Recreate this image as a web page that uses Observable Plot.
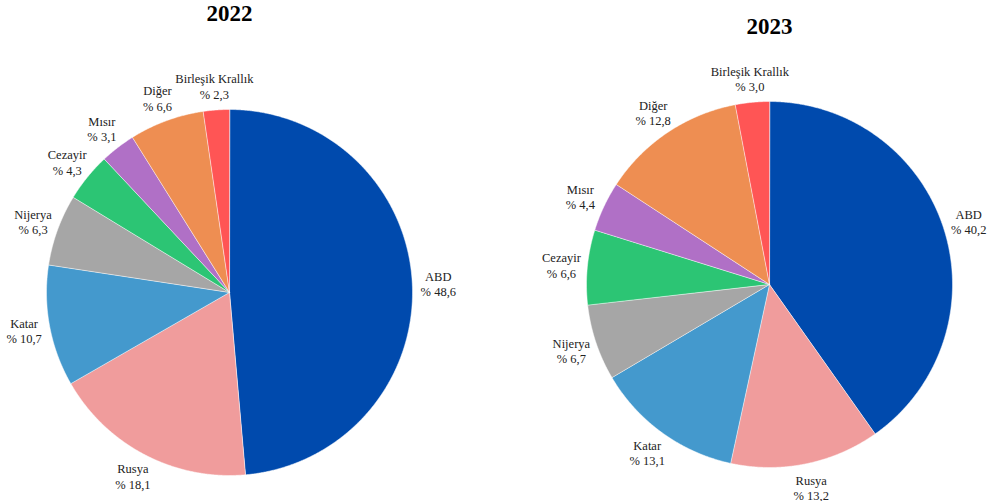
<!DOCTYPE html>
<html><head><meta charset="utf-8">
<script src="https://cdn.jsdelivr.net/npm/d3@7"></script>
<script src="https://cdn.jsdelivr.net/npm/@observablehq/plot@0.6"></script>
<style>body{margin:0;background:#fff}#chart{width:995px;height:501px}</style>
</head><body><div id="chart"></div>
<script>
// ---- data ----
const countries = ["ABD", "Rusya", "Katar", "Nijerya", "Cezayir", "Mısır", "Diğer", "Birleşik Krallık"];
const colors = ["#004AAD", "#F09C9C", "#4499CD", "#A6A6A6", "#2CC574", "#B070C6", "#EE8E52", "#FF5555"];
const years = ["2022", "2023"];
const shares2022 = [48.6, 18.1, 10.7, 6.3, 4.3, 3.1, 6.6, 2.3];
const shares2023 = [40.2, 13.2, 13.1, 6.7, 6.6, 4.4, 12.8, 3.0];

// ---- layout ----
const W = 995, H = 501;
const layout = {
  "2022": {cx: 229, cy: 292, ty: 13, shares: shares2022},
  "2023": {cx: 769, cy: 284, ty: 26, shares: shares2023}
};
const R = 183, LR = 207;
const FONT = "Liberation Serif";
const fmt = v => "% " + v.toFixed(1).replace(".", ",");

const slicePts = [], labels = [], titles = [];
for (const yr of years) {
  const L = layout[yr];
  const pie = d3.pie().sort(null).value(d => d.v)(countries.map((c, i) => ({c, i, v: L.shares[i]})));
  for (const a of pie) {
    const key = yr + "-" + a.data.c;
    const col = colors[a.data.i];
    slicePts.push({key, col, x: L.cx, y: L.cy});
    const n = Math.max(4, Math.ceil((a.endAngle - a.startAngle) / 0.005));
    for (let k = 0; k <= n; k++) {
      const t = a.startAngle + (a.endAngle - a.startAngle) * k / n;
      slicePts.push({key, col, x: L.cx + R * Math.sin(t), y: L.cy - R * Math.cos(t)});
    }
    const m = (a.startAngle + a.endAngle) / 2;
    labels.push({x: L.cx + (LR + 2) * Math.sin(m), y: L.cy - LR * Math.cos(m), text: a.data.c + "\n" + fmt(a.data.v)});
  }
  titles.push({x: L.cx, y: L.ty, text: yr});
}

const chart = Plot.plot({
  width: W, height: H,
  margin: 0,
  x: {domain: [0, W], range: [0, W], axis: null},
  y: {domain: [0, H], range: [0, H], axis: null},
  color: {type: "identity"},
  style: {fontFamily: FONT, background: "#fff", overflow: "visible"},
  marks: [
    Plot.line(slicePts, {x: "x", y: "y", z: "key", fill: "col", stroke: "#fff", strokeWidth: 0.5, strokeLinejoin: "round", curve: "linear-closed"}),
    Plot.text(labels, {x: "x", y: "y", text: "text", fontFamily: FONT, fontSize: 12.5, lineHeight: 1.24, fill: "#222", lineAnchor: "middle"}),
    Plot.text(titles, {x: "x", y: "y", text: "text", fontFamily: FONT, fontSize: 23, fontWeight: "bold", fill: "#000", lineAnchor: "middle"})
  ]
});
document.getElementById("chart").appendChild(chart);
</script>
</body></html>
